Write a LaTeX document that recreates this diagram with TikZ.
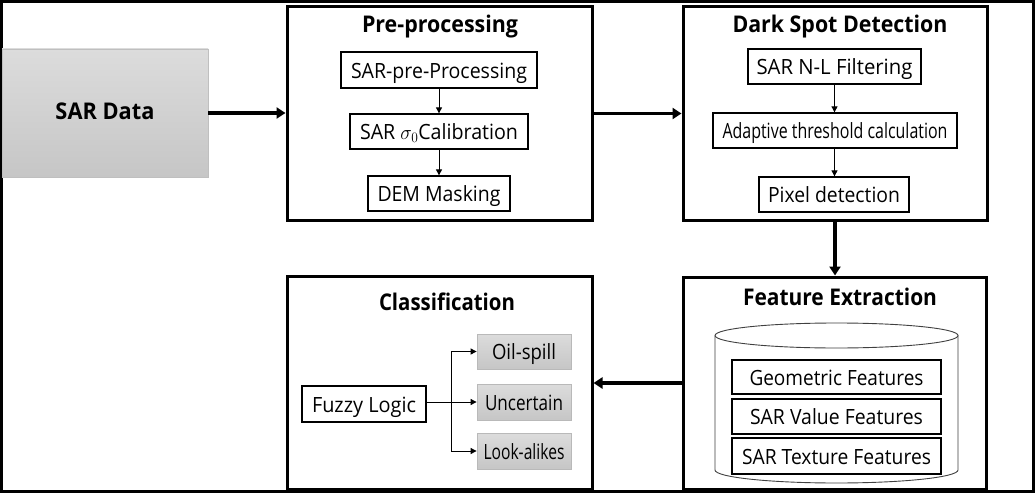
\documentclass[tikz,border=0pt]{standalone}
\usepackage{fontspec}
\setmainfont{Open Sans}
\usepackage{graphicx}
\usetikzlibrary{arrows.meta}
\newcommand{\fw}[2]{\resizebox{#1pt}{\height}{#2}}
\definecolor{gtop}{HTML}{DCDCDC}
\definecolor{gbot}{HTML}{C6C6C6}
\tikzset{
  panel/.style={draw, line width=3pt, minimum width=#1, inner sep=0pt},
  inbox/.style={draw, line width=1.3pt, inner sep=0pt, text height=18pt, text depth=2pt, font=\fontsize{21}{25}\selectfont},
  graybox/.style={draw=gray!55, line width=0.8pt, top color=gtop, bottom color=gbot, inner sep=0pt, text height=18pt, text depth=2pt, font=\fontsize{21}{25}\selectfont},
  ttl/.style={anchor=base, inner sep=0pt, font=\fontsize{23}{27}\selectfont\bfseries},
  bigarrow/.style={line width=3.4pt, -{Triangle[length=9pt,width=11pt]}},
  smallarrow/.style={line width=0.9pt, -{Triangle[length=6pt,width=6pt]}},
  cyl/.style={draw=black!75, line width=0.9pt},
}
\begin{document}
\begin{tikzpicture}[x=1pt,y=-1pt]
\useasboundingbox (0,0) rectangle (1036,495);
\fill[white] (0,0) rectangle (1036,495);
\draw[line width=3pt] (1.5,1.5) rectangle (1033,491);

% SAR data
\node[draw=gray!50, line width=0.8pt, top color=gtop, bottom color=gbot, minimum width=206pt, minimum height=128pt, inner sep=0pt] (sar) at (105,113) {};
\node[ttl] (sart) at (105,119) {\fw{99}{SAR Data}};

% Pre-processing
\node[panel=305pt, minimum height=213pt] (pre) at (439.5,113.5) {};
\node[ttl] (pret) at (440,33) {\fw{156}{Pre-processing}};
\node[inbox, minimum width=196pt, minimum height=36pt] (pp) at (439,70) {\fw{176}{SAR-pre-Processing}};
\node[inbox, minimum width=178pt, minimum height=35pt] (cal) at (439,131.5) {\fw{158}{SAR $\sigma_0$Calibration}};
\node[inbox, minimum width=142pt, minimum height=35pt] (dem) at (439,193.5) {\fw{123}{DEM\ Masking}};
\draw[smallarrow] (pp.south) -- (cal.north);
\draw[smallarrow] (cal.south) -- (dem.north);

% Dark spot detection
\node[panel=304pt, minimum height=213pt] (dark) at (835,113.5) {};
\node[ttl] (darkt) at (840,33) {\fw{215}{Dark Spot Detection}};
\node[inbox, minimum width=173pt, minimum height=35pt] (nl) at (834.5,66.5) {\fw{156}{SAR N-L Filtering}};
\node[inbox, minimum width=244pt, minimum height=35pt] (ad) at (835,130.5) {\fw{225}{Adaptive threshold calculation}};
\node[inbox, minimum width=150pt, minimum height=35pt] (px) at (834,194.5) {\fw{132}{Pixel detection}};
\draw[smallarrow] (nl.south) -- (nl.south |- ad.north);
\draw[smallarrow] (ad.south -| nl.south) -- (nl.south |- px.north);

% Feature extraction
\node[panel=303pt, minimum height=212pt] (fe) at (834.5,383) {};
\node[ttl] (fet) at (840,305) {\fw{194}{Feature Extraction}};
\draw[cyl] (715,335.5) -- (715,470) arc[start angle=180, end angle=360, x radius=121.5pt, y radius=13pt] -- (958,335.5);
\draw[cyl] (836.5,335.5) ellipse[x radius=121.5pt, y radius=12.5pt];
\node[inbox, fill=white, minimum width=209pt, minimum height=34pt] (geo) at (836.5,377) {\fw{174}{Geometric Features}};
\node[inbox, fill=white, minimum width=209pt, minimum height=35pt] (val) at (836.5,416.5) {\fw{173}{SAR Value Features}};
\node[inbox, fill=white, minimum width=209pt, minimum height=36pt] (tex) at (836.5,456) {\fw{189}{SAR Texture Features}};

% Classification
\node[panel=305pt, minimum height=213pt] (cls) at (439.5,382.5) {};
\node[ttl] (clst) at (447,310) {\fw{136}{Classification}};
\node[inbox, minimum width=124pt, minimum height=36pt] (fz) at (364,404) {\fw{104}{Fuzzy Logic}};
\node[graybox, minimum width=94pt, minimum height=35pt] (oil) at (524,351.5) {\fw{64}{Oil-spill}};
\node[graybox, minimum width=94pt, minimum height=36pt] (unc) at (524,402) {\fw{78}{Uncertain}};
\node[graybox, minimum width=94pt, minimum height=36pt] (look) at (524,451) {\fw{81}{Look-alikes}};
\coordinate (br) at (451,402);
\draw[smallarrow] (fz.east |- unc.west) -- (unc.west);
\draw[line width=0.9pt] (br |- oil.west) -- (br |- look.west);
\draw[smallarrow] (br |- oil.west) -- (oil.west);
\draw[smallarrow] (br |- look.west) -- (look.west);

% main arrows
\draw[bigarrow] (sar.east) -- (sar.east -| pre.west);
\draw[bigarrow] (pre.east) -- (pre.east -| dark.west);
\draw[bigarrow] (dark.south) -- (dark.south |- fe.north);
\draw[bigarrow] (fe.west) -- (fe.west -| cls.east);
\end{tikzpicture}
\end{document}
